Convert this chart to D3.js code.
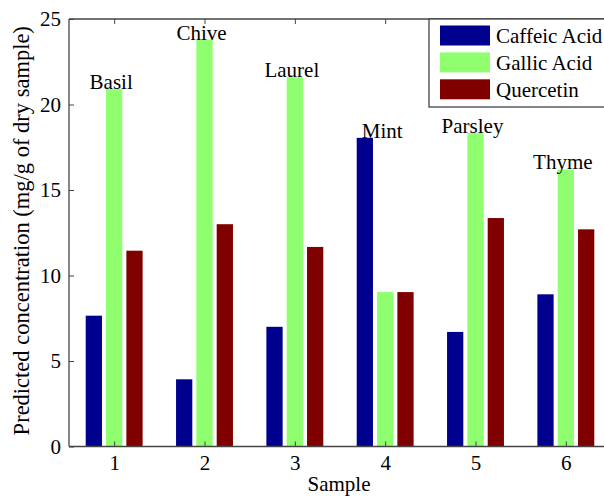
<!DOCTYPE html>
<html><head><meta charset="utf-8">
<script src="https://cdn.jsdelivr.net/npm/d3@7"></script>
<style>body{margin:0;background:#fff}svg{display:block}text{font-family:"Liberation Serif","Times New Roman","DejaVu Serif",serif;fill:#000}</style>
</head><body>
<svg id="c" width="604" height="497" font-family="Liberation Serif, serif"></svg>
<script>
const samples = [1, 2, 3, 4, 5, 6];
const herbs = ["Basil", "Chive", "Laurel", "Mint", "Parsley", "Thyme"];
const seriesNames = ["Caffeic Acid", "Gallic Acid", "Quercetin"];
const caffeic = [7.65, 3.93, 7.0, 18.05, 6.7, 8.9];
const gallic = [20.9, 23.8, 21.6, 9.03, 18.33, 16.2];
const quercetin = [11.45, 13.0, 11.67, 9.03, 13.36, 12.7];
const colors = ["#00008F", "#8FFF70", "#800000"];
const yTicks = [0, 5, 10, 15, 20, 25];

const svg = d3.select("#c");
const L = 69, R = 611, T = 19, B = 446.5;
const FS = 21;
const x = d3.scaleLinear().domain([0.5, 6.5]).range([L, R]);
const y = d3.scaleLinear().domain([0, 25]).range([B, T]);
const series = [caffeic, gallic, quercetin];
const off = 0.225, bw = 0.18;

// bars
series.forEach((vals, j) => {
  svg.append("g").selectAll("rect").data(vals).join("rect")
    .attr("x", (d, i) => x(samples[i] + (j - 1) * off - bw / 2))
    .attr("width", x(bw) - x(0))
    .attr("y", d => y(d))
    .attr("height", d => y(0) - y(d))
    .attr("fill", colors[j]);
});

// herb labels
svg.append("g").selectAll("text").data(herbs).join("text")
  .attr("x", (d, i) => x(samples[i]) - 3)
  .attr("y", (d, i) => y(Math.max(caffeic[i], gallic[i], quercetin[i])))
  .attr("text-anchor", "middle")
  .attr("font-size", FS)
  .text(d => d);

// axes (ticks inside)
const axL = svg.append("g").attr("transform", `translate(${L},0)`)
  .call(d3.axisLeft(y).tickValues(yTicks).tickSize(-5).tickPadding(8).tickFormat(d3.format("d")));
const axB = svg.append("g").attr("transform", `translate(0,${B})`)
  .call(d3.axisBottom(x).tickValues(samples).tickSize(-5).tickPadding(9).tickFormat(d3.format("d")));
const axT = svg.append("g").attr("transform", `translate(0,${T})`)
  .call(d3.axisTop(x).tickValues(samples).tickSize(-5).tickFormat(""));
const axR = svg.append("g").attr("transform", `translate(${R},0)`)
  .call(d3.axisRight(y).tickValues(yTicks).tickSize(-5).tickFormat(""));
[axL, axB, axT, axR].forEach(a => {
  a.attr("font-family", "Liberation Serif, serif").attr("font-size", FS);
  a.selectAll("path").attr("stroke", "#444").attr("stroke-width", 1.3);
  a.selectAll("line").attr("stroke", "#444");
  a.selectAll("text").attr("fill", "#000");
});
axL.selectAll("path").attr("d", `M0,${T}V${B}`);
axB.selectAll("path").attr("d", `M${L},0H${R}`);
axT.selectAll("path").attr("d", `M${L},0H${R}`);

// axis titles
svg.append("text").attr("x", (L + R) / 2 - 1).attr("y", 491)
  .attr("text-anchor", "middle").attr("font-size", FS).text("Sample");
svg.append("text").attr("transform", `translate(29,${(T + B) / 2 - 2}) rotate(-90)`)
  .attr("text-anchor", "middle").attr("font-size", 22.5)
  .text("Predicted concentration (mg/g of dry sample)");

// legend
const lg = svg.append("g");
lg.append("rect").attr("x", 429).attr("y", T).attr("width", 182).attr("height", 88)
  .attr("fill", "#fff").attr("stroke", "#444").attr("stroke-width", 1.3);
seriesNames.forEach((n, j) => {
  lg.append("rect").attr("x", 440).attr("y", 25.5 + j * 26.9).attr("width", 50).attr("height", 20)
    .attr("fill", colors[j]);
  lg.append("text").attr("x", 496).attr("y", 42.5 + j * 27.3).attr("font-size", FS).text(n);
});
</script>
</body></html>
